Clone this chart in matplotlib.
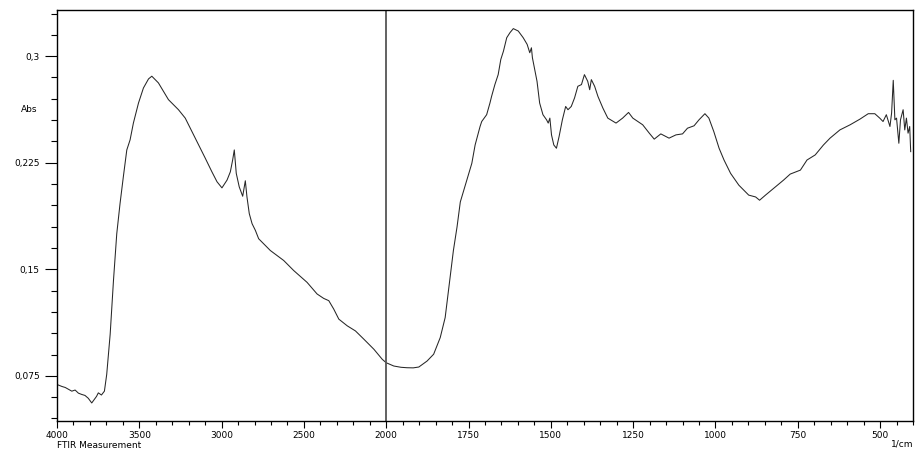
import numpy as np
import matplotlib.pyplot as plt
from matplotlib.ticker import FixedLocator, FuncFormatter

plt.rcParams.update({
    "font.family": ["DejaVu Sans"],
    "font.size": 6.5,
    "axes.linewidth": 1.0,
})

# FTIR spectrum (wavenumber in 1/cm, absorbance)
wavenumber = [
    4000, 3970, 3950, 3930, 3910, 3890, 3870, 3850, 3830, 3810, 3789, 3770, 3760, 3749,
    3730, 3712, 3698, 3677, 3657, 3637, 3617, 3597, 3576, 3556, 3536, 3505, 3475, 3444,
    3424, 3384, 3353, 3323, 3262, 3221, 3180, 3140, 3099, 3059, 3028, 2998, 2967, 2947,
    2933, 2923, 2911, 2893, 2872, 2856, 2846, 2832, 2815, 2795, 2775, 2704, 2623, 2562,
    2481, 2420, 2380, 2349, 2319, 2288, 2237, 2187, 2136, 2075, 2024, 2000,
    1977, 1955, 1937, 1918, 1901, 1876, 1856, 1836, 1821, 1808, 1796, 1785, 1775, 1755,
    1740, 1730, 1715, 1710, 1695, 1685, 1680, 1670, 1660, 1652, 1644, 1634, 1624, 1614,
    1599, 1584, 1572, 1564, 1559, 1556, 1549, 1542, 1534, 1524, 1513, 1508, 1503, 1498,
    1491, 1483, 1475, 1465, 1455, 1448, 1438, 1428, 1418, 1407, 1398, 1388, 1382, 1377,
    1367, 1357, 1342, 1327, 1302, 1282, 1264, 1251, 1221, 1201, 1186, 1166, 1141, 1120,
    1100, 1085, 1065, 1050, 1032, 1020, 1005, 989, 974, 954, 929, 899, 878, 866,
    848, 818, 793, 773, 742, 722, 697, 672, 652, 622, 591, 561, 536, 516,
    501, 491, 481, 470, 465, 460, 455, 450, 443, 438, 430, 425, 420, 415,
    410, 407,
]
absorbance = [
    0.0689, 0.0675, 0.0668, 0.0655, 0.0642, 0.0650, 0.0628, 0.0619, 0.0612, 0.0592, 0.0559, 0.0590, 0.0605, 0.0630,
    0.0615, 0.0642, 0.0760, 0.1043, 0.1420, 0.1750, 0.1963, 0.2151, 0.2340, 0.2411, 0.2529, 0.2670, 0.2776, 0.2840,
    0.2859, 0.2812, 0.2752, 0.2694, 0.2623, 0.2564, 0.2469, 0.2375, 0.2281, 0.2186, 0.2116, 0.2073, 0.2128, 0.2186,
    0.2269, 0.2340, 0.2175, 0.2080, 0.2014, 0.2123, 0.2009, 0.1892, 0.1821, 0.1774, 0.1715, 0.1632, 0.1562, 0.1491,
    0.1408, 0.1326, 0.1295, 0.1279, 0.1220, 0.1149, 0.1102, 0.1066, 0.1008, 0.0937, 0.0866, 0.0842,
    0.0819, 0.0810, 0.0807, 0.0806, 0.0812, 0.0854, 0.0902, 0.1019, 0.1160, 0.1408, 0.1632, 0.1797, 0.1974, 0.2128,
    0.2246, 0.2375, 0.2505, 0.2540, 0.2588, 0.2670, 0.2717, 0.2800, 0.2870, 0.2977, 0.3035, 0.3130, 0.3166, 0.3194,
    0.3177, 0.3130, 0.3083, 0.3024, 0.3059, 0.2989, 0.2906, 0.2823, 0.2670, 0.2588, 0.2552, 0.2529, 0.2564, 0.2446,
    0.2375, 0.2352, 0.2434, 0.2552, 0.2646, 0.2623, 0.2646, 0.2706, 0.2788, 0.2800, 0.2870, 0.2823, 0.2764, 0.2835,
    0.2788, 0.2717, 0.2635, 0.2564, 0.2529, 0.2564, 0.2604, 0.2564, 0.2517, 0.2458, 0.2416, 0.2453, 0.2423, 0.2446,
    0.2453, 0.2493, 0.2510, 0.2552, 0.2595, 0.2564, 0.2469, 0.2352, 0.2269, 0.2175, 0.2092, 0.2022, 0.2009, 0.1986,
    0.2022, 0.2080, 0.2128, 0.2170, 0.2198, 0.2269, 0.2305, 0.2375, 0.2423, 0.2481, 0.2517, 0.2557, 0.2595, 0.2595,
    0.2564, 0.2540, 0.2588, 0.2505, 0.2600, 0.2830, 0.2552, 0.2564, 0.2387, 0.2552, 0.2623, 0.2481, 0.2564, 0.2458,
    0.2505, 0.2328,
]

x_major = [4000, 3500, 3000, 2500, 2000, 1750, 1500, 1250, 1000, 750, 500]
x_minor = list(range(4000, 2000, -100)) + list(range(2000, 399, -50))
y_major = [0.075, 0.15, 0.225, 0.3]
y_minor = [0.045, 0.06, 0.09, 0.105, 0.12, 0.135, 0.165, 0.18, 0.195, 0.21,
           0.24, 0.255, 0.27, 0.285, 0.315, 0.33]


# scale doubles below 2000 1/cm, like the instrument software
def fwd(w):
    w = np.asarray(w, dtype=float)
    return np.where(w >= 2000, w, 2 * w - 2000)


def inv(p):
    p = np.asarray(p, dtype=float)
    return np.where(p >= 2000, p, (p + 2000) / 2)


fig = plt.figure(figsize=(9.16, 4.53), dpi=100)
ax = fig.add_axes([57 / 916, 32 / 453, 856 / 916, 411 / 453])

ax.plot(wavenumber, absorbance, color="#262626", linewidth=0.75)
ax.axvline(2000, color="#555555", linewidth=1.3)

ax.set_xscale("function", functions=(fwd, inv))
ax.set_xlim(4000, 400)
ax.set_ylim(0.0432, 0.3325)

ax.xaxis.set_major_locator(FixedLocator(x_major))
ax.xaxis.set_minor_locator(FixedLocator(x_minor))
ax.xaxis.set_major_formatter(FuncFormatter(lambda v, p: f"{v:.0f}"))
ax.yaxis.set_major_locator(FixedLocator(y_major))
ax.yaxis.set_minor_locator(FixedLocator(y_minor))
ax.yaxis.set_major_formatter(FuncFormatter(lambda v, p: f"{v:g}".replace(".", ",")))

ax.tick_params(axis="x", which="major", length=5, width=0.8, pad=2)
ax.tick_params(axis="x", which="minor", length=3, width=0.8)
ax.tick_params(axis="y", which="major", length=8.5, width=0.8, pad=4)
ax.tick_params(axis="y", which="minor", length=4.3, width=0.8)

for s in ax.spines.values():
    s.set_color("#000000")

fig.text(29 / 916, 1 - 110 / 453, "Abs", ha="center", va="center", fontsize=6.5)
fig.text(57 / 916, 1 - 446 / 453, "FTIR Measurement", ha="left", va="center", fontsize=6.5)
fig.text(913 / 916, 1 - 444 / 453, "1/cm", ha="right", va="center", fontsize=6.5)

fig.savefig("out.png", dpi=100)
